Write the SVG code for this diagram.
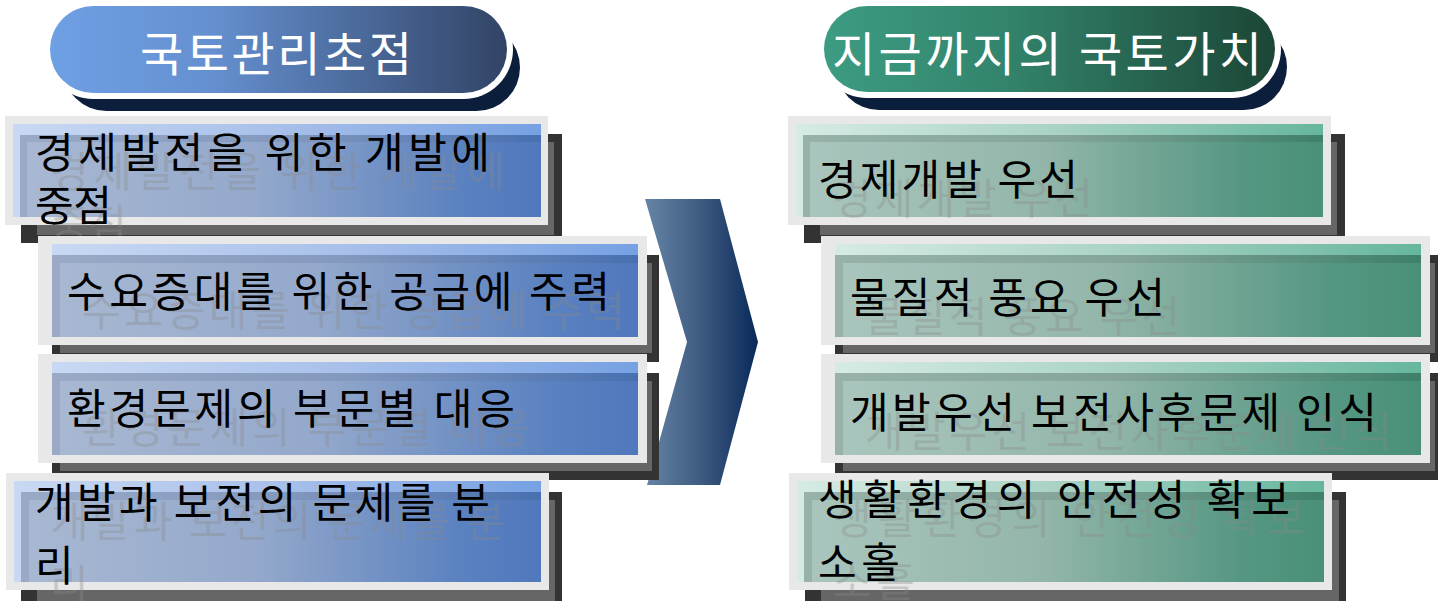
<svg xmlns="http://www.w3.org/2000/svg" width="1438" height="601" viewBox="0 0 1438 601">
<defs>
<linearGradient id="hl" x1="0" y1="0" x2="1" y2="0"><stop offset="0" stop-color="#6ea0e4"/><stop offset="0.35" stop-color="#6590d0"/><stop offset="1" stop-color="#324466"/></linearGradient>
<linearGradient id="hr" x1="0" y1="0" x2="1" y2="0"><stop offset="0" stop-color="#3c9c82"/><stop offset="0.4" stop-color="#33846c"/><stop offset="1" stop-color="#1c4636"/></linearGradient>
<linearGradient id="chev" x1="0" y1="0" x2="1" y2="0"><stop offset="0" stop-color="#6685a6"/><stop offset="0.5" stop-color="#3e5a80"/><stop offset="1" stop-color="#08295a"/></linearGradient>
<linearGradient id="lb" x1="0" y1="0" x2="1" y2="0"><stop offset="0" stop-color="#c9d9f3"/><stop offset="0.5" stop-color="#a8c0ea"/><stop offset="1" stop-color="#76a1e3"/></linearGradient>
<linearGradient id="lo" x1="0" y1="0" x2="1" y2="0"><stop offset="0" stop-color="#9aaac6"/><stop offset="0.5" stop-color="#8499be"/><stop offset="1" stop-color="#4870b0"/></linearGradient>
<linearGradient id="lm" x1="0" y1="0" x2="1" y2="0"><stop offset="0" stop-color="#a8b8d2"/><stop offset="0.45" stop-color="#93a8cb"/><stop offset="0.85" stop-color="#5a81c0"/><stop offset="1" stop-color="#5078bc"/></linearGradient>
<linearGradient id="rb" x1="0" y1="0" x2="1" y2="0"><stop offset="0" stop-color="#d6ebe5"/><stop offset="0.5" stop-color="#a8d2c4"/><stop offset="1" stop-color="#66b69e"/></linearGradient>
<linearGradient id="ro" x1="0" y1="0" x2="1" y2="0"><stop offset="0" stop-color="#98b2aa"/><stop offset="0.5" stop-color="#84a49a"/><stop offset="1" stop-color="#3e806a"/></linearGradient>
<linearGradient id="rm" x1="0" y1="0" x2="1" y2="0"><stop offset="0" stop-color="#a9c5bd"/><stop offset="0.45" stop-color="#93b6aa"/><stop offset="0.85" stop-color="#549682"/><stop offset="1" stop-color="#4a9078"/></linearGradient>
</defs>
<style>
.frame{fill:#e8e8e8}
.s1{fill:#333333}
.s2{fill:#666666}
.hs{fill:#0b1f3c}
.hw{fill:#ffffff}
.t{font-family:"Noto Sans CJK KR","Noto Sans",sans-serif;font-size:42px;fill:#000000}
.ts{font-family:"Noto Sans CJK KR","Noto Sans",sans-serif;font-size:42px;fill:#8a8a8a;fill-opacity:0.35}
.h{font-family:"Noto Sans CJK KR","Noto Sans",sans-serif;font-size:47px;fill:#ffffff}
</style>
<rect width="1438" height="601" fill="#ffffff"/>

<g id="header-left">
<rect class="hs" x="63" y="24" width="457" height="87" rx="43.5"/>
<rect class="hw" x="44" y="0" width="469" height="99" rx="49.5"/>
<rect x="50" y="6" width="457" height="87" rx="43.5" fill="url(#hl)"/>
<text class="h" x="140" y="71" textLength="272" lengthAdjust="spacing">국토관리초점</text>
</g>

<g id="header-right">
<rect class="hs" x="836" y="24" width="451" height="86" rx="43"/>
<rect class="hw" x="818" y="0" width="463" height="98" rx="49"/>
<rect x="824" y="6" width="451" height="86" rx="43" fill="url(#hr)"/>
<text class="h" x="832" y="71" textLength="430" lengthAdjust="spacing">지금까지의 국토가치</text>
</g>

<g id="connectors">
<polygon points="645,199 720,199 758,342 720,485 647,485 687,342" fill="url(#chev)"/>
</g>

<g id="box-l1">
<rect class="s1" x="21" y="134" width="541" height="109"/>
<rect class="s2" x="37" y="142" width="517" height="93"/>
<rect class="frame" x="5" y="116" width="543" height="109"/>
<rect x="13" y="124" width="528" height="93" fill="url(#lb)"/>
<rect x="20" y="135" width="521" height="82" fill="url(#lo)"/>
<rect x="27" y="142" width="514" height="75" fill="url(#lm)"/>
<text class="ts" x="50" y="187" textLength="455" lengthAdjust="spacing">경제발전을 위한 개발에</text>
<text class="ts" x="50" y="240" textLength="77" lengthAdjust="spacing">중점</text>
<text class="t" x="35" y="168" textLength="455" lengthAdjust="spacing">경제발전을 위한 개발에</text>
<text class="t" x="35" y="221" textLength="77" lengthAdjust="spacing">중점</text>
</g>

<g id="box-l2">
<rect class="s1" x="52" y="255" width="607" height="107"/>
<rect class="s2" x="60" y="263" width="592" height="90"/>
<rect class="frame" x="38" y="236" width="609" height="109"/>
<rect x="52" y="244" width="586" height="93" fill="url(#lb)"/>
<rect x="52" y="255" width="586" height="82" fill="url(#lo)"/>
<rect x="60" y="263" width="578" height="74" fill="url(#lm)"/>
<text class="ts" x="82" y="326" textLength="543" lengthAdjust="spacing">수요증대를 위한 공급에 주력</text>
<text class="t" x="67" y="307" textLength="543" lengthAdjust="spacing">수요증대를 위한 공급에 주력</text>
</g>

<g id="box-l3">
<rect class="s1" x="52" y="373" width="607" height="107"/>
<rect class="s2" x="60" y="381" width="592" height="90"/>
<rect class="frame" x="38" y="354" width="609" height="109"/>
<rect x="52" y="362" width="586" height="93" fill="url(#lb)"/>
<rect x="52" y="373" width="586" height="82" fill="url(#lo)"/>
<rect x="60" y="381" width="578" height="74" fill="url(#lm)"/>
<text class="ts" x="82" y="443" textLength="448" lengthAdjust="spacing">환경문제의 부문별 대응</text>
<text class="t" x="67" y="424" textLength="448" lengthAdjust="spacing">환경문제의 부문별 대응</text>
</g>

<g id="box-l4">
<rect class="s1" x="21" y="492" width="541" height="123"/>
<rect class="s2" x="37" y="500" width="518" height="102"/>
<rect class="frame" x="6" y="473" width="543" height="117"/>
<rect x="14" y="481" width="527" height="101" fill="url(#lb)"/>
<rect x="21" y="492" width="520" height="90" fill="url(#lo)"/>
<rect x="29" y="500" width="512" height="82" fill="url(#lm)"/>
<text class="ts" x="50" y="537" textLength="455" lengthAdjust="spacing">개발과 보전의 문제를 분</text>
<text class="ts" x="50" y="600">리</text>
<text class="t" x="35" y="518" textLength="455" lengthAdjust="spacing">개발과 보전의 문제를 분</text>
<text class="t" x="35" y="581">리</text>
</g>

<g id="box-r1">
<rect class="s1" x="804" y="134" width="541" height="109"/>
<rect class="s2" x="820" y="142" width="517" height="93"/>
<rect class="frame" x="788" y="116" width="543" height="109"/>
<rect x="796" y="124" width="527" height="93" fill="url(#rb)"/>
<rect x="803" y="135" width="520" height="82" fill="url(#ro)"/>
<rect x="810" y="142" width="513" height="75" fill="url(#rm)"/>
<text class="ts" x="833" y="214" textLength="260" lengthAdjust="spacing">경제개발 우선</text>
<text class="t" x="818" y="195" textLength="260" lengthAdjust="spacing">경제개발 우선</text>
</g>

<g id="box-r2">
<rect class="s1" x="835" y="255" width="607" height="107"/>
<rect class="s2" x="843" y="263" width="592" height="90"/>
<rect class="frame" x="821" y="236" width="609" height="109"/>
<rect x="835" y="244" width="586" height="93" fill="url(#rb)"/>
<rect x="835" y="255" width="586" height="82" fill="url(#ro)"/>
<rect x="843" y="263" width="578" height="74" fill="url(#rm)"/>
<text class="ts" x="865" y="332" textLength="315" lengthAdjust="spacing">물질적 풍요 우선</text>
<text class="t" x="850" y="313" textLength="315" lengthAdjust="spacing">물질적 풍요 우선</text>
</g>

<g id="box-r3">
<rect class="s1" x="835" y="373" width="607" height="107"/>
<rect class="s2" x="843" y="381" width="592" height="90"/>
<rect class="frame" x="821" y="354" width="609" height="109"/>
<rect x="835" y="362" width="586" height="93" fill="url(#rb)"/>
<rect x="835" y="373" width="586" height="82" fill="url(#ro)"/>
<rect x="843" y="381" width="578" height="74" fill="url(#rm)"/>
<text class="ts" x="865" y="447" textLength="527" lengthAdjust="spacing">개발우선 보전사후문제 인식</text>
<text class="t" x="850" y="428" textLength="527" lengthAdjust="spacing">개발우선 보전사후문제 인식</text>
</g>

<g id="box-r4">
<rect class="s1" x="805" y="492" width="541" height="123"/>
<rect class="s2" x="821" y="500" width="518" height="102"/>
<rect class="frame" x="789" y="473" width="543" height="117"/>
<rect x="797" y="481" width="527" height="101" fill="url(#rb)"/>
<rect x="804" y="492" width="520" height="90" fill="url(#ro)"/>
<rect x="812" y="500" width="512" height="82" fill="url(#rm)"/>
<text class="ts" x="833" y="534" textLength="472" lengthAdjust="spacing">생활환경의 안전성 확보</text>
<text class="ts" x="833" y="597" textLength="82" lengthAdjust="spacing">소홀</text>
<text class="t" x="818" y="515" textLength="472" lengthAdjust="spacing">생활환경의 안전성 확보</text>
<text class="t" x="818" y="578" textLength="82" lengthAdjust="spacing">소홀</text>
</g>
</svg>
